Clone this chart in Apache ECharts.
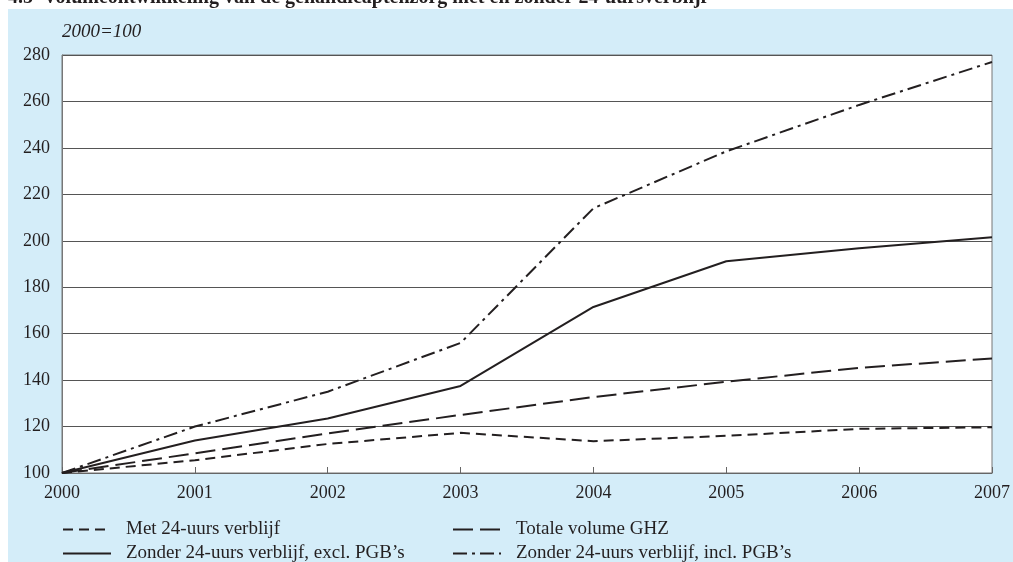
<!DOCTYPE html>
<html>
<head>
<meta charset="utf-8">
<script src="https://cdn.jsdelivr.net/npm/echarts@6/dist/echarts.min.js"></script>
<style>html,body{margin:0;padding:0;background:#fff}#c{width:1013px;height:562px}</style>
</head>
<body>
<div id="c"></div>
<script>
const years = ['2000','2001','2002','2003','2004','2005','2006','2007'];
const met24 = [100, 105.5, 112.5, 117.3, 113.7, 116, 119, 119.7];
const totaalGHZ = [100, 108.5, 117, 125, 132.7, 139.3, 145.3, 149.3];
const zonderExcl = [100, 114, 123.5, 137.5, 171.5, 191.2, 196.8, 201.5];
const zonderIncl = [100, 120, 135, 156, 214, 238.5, 258.5, 277];
const yTicks = {min: 100, max: 280, interval: 20};
const names = ['Met 24-uurs verblijf', 'Totale volume GHZ', 'Zonder 24-uurs verblijf, excl. PGB\u2019s', 'Zonder 24-uurs verblijf, incl. PGB\u2019s'];

const FONT = 'Liberation Serif';
const INK = '#231f20';
const chart = echarts.init(document.getElementById('c'), null, {renderer: 'canvas'});

function line(name, data, dash) {
  return {
    name: name, type: 'line', data: data, symbol: 'none', smooth: false,
    lineStyle: {color: INK, width: 2, type: dash},
    itemStyle: {color: INK},
    emphasis: {disabled: true}
  };
}
function leg(name, left, top) {
  return {
    data: [name], left: left, top: top,
    itemWidth: 48, itemHeight: 14, padding: 0,
    itemStyle: {opacity: 0},
    textStyle: {fontFamily: FONT, fontSize: 19, color: INK, padding: [0,0,0,10]},
    selectedMode: false
  };
}

chart.setOption({
  animation: false,
  backgroundColor: '#ffffff',
  graphic: [{
    type: 'rect', z: -10, silent: true,
    shape: {x: 8, y: 9, width: 1013, height: 560},
    style: {fill: '#d4edf9'}
  }],
  title: {
    text: '4.5  Volumeontwikkeling van de gehandicaptenzorg met en zonder 24-uursverblijf',
    left: 8, top: -12, padding: 0,
    textStyle: {fontFamily: FONT, fontWeight: 'bold', fontSize: 20, color: INK}
  },
  grid: {left: 62, right: 17, top: 55, bottom: 89, show: true, backgroundColor: '#ffffff', borderColor: '#777', borderWidth: 1},
  xAxis: {
    type: 'category', data: years, boundaryGap: false,
    axisLine: {show: true, lineStyle: {color: '#666', width: 1}},
    axisTick: {show: true, inside: true, length: 6, lineStyle: {color: '#666'}},
    axisLabel: {fontFamily: FONT, fontSize: 18, color: INK, margin: 11},
    splitLine: {show: false}
  },
  yAxis: {
    type: 'value', min: yTicks.min, max: yTicks.max, interval: yTicks.interval,
    name: '2000=100', nameLocation: 'end', nameGap: 14,
    nameTextStyle: {fontFamily: FONT, fontStyle: 'italic', fontSize: 19, color: INK, align: 'left'},
    axisLine: {show: true, lineStyle: {color: '#777', width: 1}},
    axisTick: {show: false},
    axisLabel: {fontFamily: FONT, fontSize: 18, color: INK, margin: 12},
    splitLine: {show: true, lineStyle: {color: '#555', width: 1}}
  },
  legend: [
    leg(names[0], 62, 520),
    leg(names[2], 62, 544),
    leg(names[1], 452, 520),
    leg(names[3], 452, 544)
  ],
  series: [
    line(names[0], met24, [10, 6]),
    line(names[1], totaalGHZ, [20, 7]),
    line(names[2], zonderExcl, 'solid'),
    line(names[3], zonderIncl, [14, 5, 3, 5])
  ]
});
</script>
</body>
</html>
